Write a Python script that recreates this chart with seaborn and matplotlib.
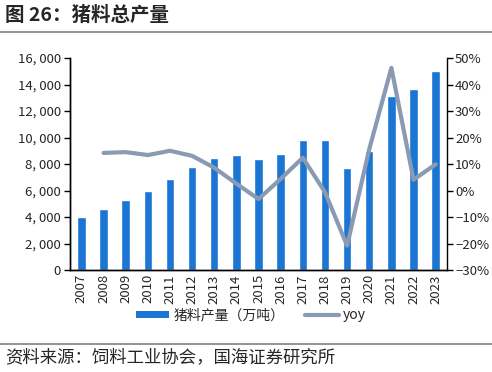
import numpy as np
import pandas as pd
import seaborn as sns
import matplotlib.pyplot as plt
from matplotlib.lines import Line2D
from matplotlib.patches import Patch
from matplotlib.ticker import FuncFormatter, FixedLocator

years = [str(y) for y in range(2007, 2024)]
output = [4030, 4590, 5270, 5970, 6850, 7760, 8460, 8670, 8410,
          8770, 9830, 9780, 7710, 8950, 13150, 13680, 15040]
yoy = [np.nan, 14.2, 14.5, 13.4, 15.0, 13.1, 8.6, 2.6, -3.2,
       4.4, 12.4, -0.6, -20.8, 15.6, 46.3, 4.1, 9.9]

bar_color = "#1a75d3"
line_color = "#8a9ab3"

sns.set_style("white")
plt.rcParams["font.family"] = ["Noto Sans CJK SC", "DejaVu Sans"]
plt.rcParams["font.size"] = 9

df = pd.DataFrame({"year": years, "output": output, "yoy": yoy})

fig = plt.figure(figsize=(4.92, 3.72), dpi=100)
ax = fig.add_axes([0.143, 0.274, 0.765, 0.57])

sns.barplot(data=df, x="year", y="output", color=bar_color, width=0.38,
            saturation=1, ax=ax)
ax.set_xlim(-0.5, len(years) - 0.5)
ax.set_ylim(0, 16000)
ax.set_yticks(range(0, 16001, 2000))
ax.yaxis.set_major_formatter(FuncFormatter(lambda v, p: f"{int(v):,}".replace(",", ", ")))
ax.set_xlabel("")
ax.set_ylabel("")
ax.tick_params(axis="x", which="major", length=0, rotation=90, pad=3, labelsize=9.5)
ax.xaxis.set_minor_locator(FixedLocator(np.arange(-0.5, len(years), 1)))
ax.tick_params(axis="x", which="minor", length=4, width=1, color="black", direction="out")
ax.tick_params(axis="y", length=4, width=1, color="black", direction="out", labelsize=9.5, pad=3)

ax2 = ax.twinx()
sns.lineplot(x=np.arange(len(years)), y=df["yoy"], color=line_color, linewidth=3,
             ax=ax2, legend=False)
ax2.set_ylim(-30, 50)
ax2.set_yticks(range(-30, 51, 10))
ax2.yaxis.set_major_formatter(FuncFormatter(lambda v, p: f"{int(v)}%".replace("-", "−")))
ax2.set_ylabel("")
ax2.tick_params(axis="y", length=4, width=1, color="black", direction="out", labelsize=9.5, pad=2)
ax2.set_xlim(-0.5, len(years) - 0.5)

for a in (ax, ax2):
    a.spines["top"].set_visible(False)
    for s in ("left", "right", "bottom"):
        a.spines[s].set_color("black")
        a.spines[s].set_linewidth(1)
ax.spines["right"].set_visible(False)

handles = [Patch(facecolor=bar_color, edgecolor="none"),
           Line2D([0], [0], color=line_color, linewidth=3)]
fig.legend(handles, ["猪料产量（万吨）", "yoy"], loc="center", ncol=2,
           bbox_to_anchor=(0.51, 0.152), frameon=False, fontsize=10,
           handlelength=2.4, handleheight=0.4, columnspacing=1.5, handletextpad=0.3)

fig.text(0.01, 0.958, "图 26：猪料总产量", fontsize=14, fontweight="bold", va="center")
fig.add_artist(Line2D([0, 1], [0.915, 0.915], color="#808080", linewidth=1.2))
fig.add_artist(Line2D([0, 1], [0.076, 0.076], color="#808080", linewidth=1.2))
fig.text(0.01, 0.04, "资料来源：饲料工业协会，国海证券研究所", fontsize=12.5, va="center")

fig.savefig("out.png", dpi=100)
